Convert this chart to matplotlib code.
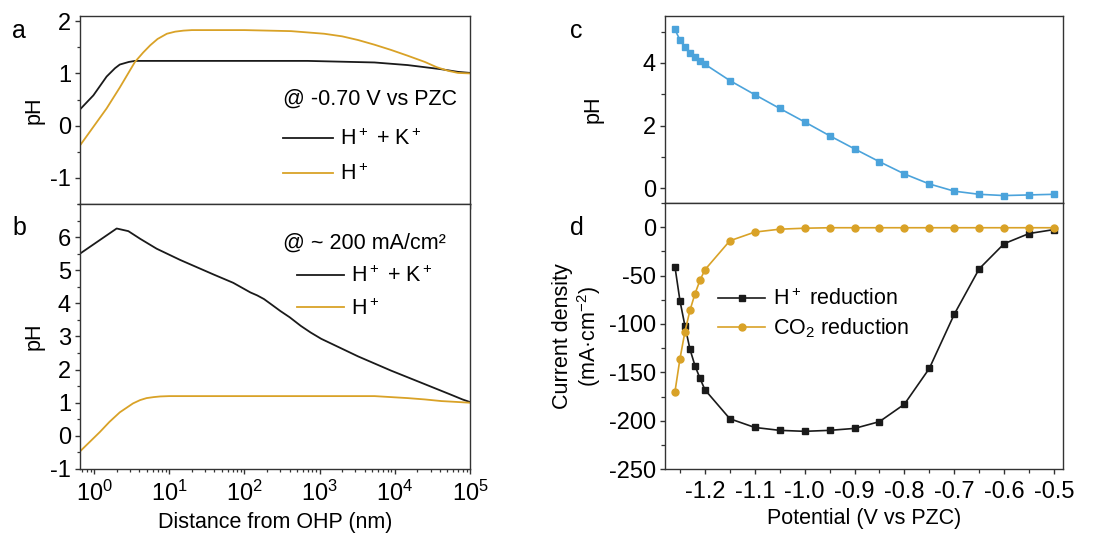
import matplotlib
matplotlib.use("Agg")
import matplotlib.pyplot as plt
from matplotlib.ticker import MultipleLocator, FormatStrFormatter, LogLocator, NullFormatter

plt.rcParams['font.family'] = ['Liberation Sans', 'DejaVu Sans']
plt.rcParams['mathtext.fontset'] = 'custom'
plt.rcParams['mathtext.rm'] = 'Liberation Sans'
plt.rcParams['mathtext.it'] = 'Liberation Sans:italic'
plt.rcParams['mathtext.bf'] = 'Liberation Sans:bold'
plt.rcParams['axes.unicode_minus'] = False
plt.rcParams['font.size'] = 15.5
plt.rcParams['xtick.labelsize'] = 17
plt.rcParams['ytick.labelsize'] = 17

orange = '#D9A227'
blue = '#4BA3DB'
black = '#1a1a1a'
spine_c = '#333333'

# --- panel a: pH vs distance @ -0.70 V vs PZC ---
a_hk_x = [0.65, 0.98, 1.47, 1.9, 2.2, 2.9, 3.5, 690, 5370, 14800, 41700, 69200, 1e5]
a_hk_ph = [0.31, 0.58, 0.94, 1.10, 1.17, 1.22, 1.24, 1.24, 1.21, 1.16, 1.08, 1.03, 1.01]
a_h_x = [0.65, 1.47, 2.2, 3.5, 4.5, 5.6, 7.0, 9.3, 12, 15.5, 20, 32, 100, 417, 1150,
         2000, 3240, 5370, 8910, 14800, 25100, 36000, 51300, 69200, 1e5]
a_h_ph = [-0.38, 0.33, 0.73, 1.22, 1.40, 1.54, 1.66, 1.76, 1.80, 1.82, 1.83, 1.83, 1.83,
          1.81, 1.76, 1.71, 1.64, 1.55, 1.45, 1.34, 1.22, 1.12, 1.05, 1.01, 1.0]

# --- panel b: pH vs distance @ ~200 mA/cm2 ---
b_hk_x = [0.65, 2.0, 2.86, 4.1, 6.8, 14, 39, 71, 120, 148, 182, 234, 300, 400, 562,
          760, 1050, 3240, 8910, 25100, 56200, 79400, 1e5]
b_hk_ph = [5.50, 6.26, 6.18, 5.95, 5.65, 5.31, 4.87, 4.62, 4.33, 4.24, 4.13, 3.95, 3.77,
           3.58, 3.32, 3.12, 2.93, 2.40, 1.97, 1.56, 1.24, 1.10, 1.02]
b_h_x = [0.65, 1.2, 1.6, 2.2, 3.3, 4.1, 5.0, 6.2, 7.6, 10, 5370, 14800, 25000, 41700,
         60000, 1e5]
b_h_ph = [-0.47, 0.12, 0.42, 0.71, 0.98, 1.08, 1.14, 1.17, 1.19, 1.20, 1.20, 1.14, 1.10,
          1.05, 1.03, 1.0]

# --- panels c, d: vs potential ---
potential = [-1.26, -1.25, -1.24, -1.23, -1.22, -1.21, -1.20, -1.15, -1.10, -1.05, -1.00,
             -0.95, -0.90, -0.85, -0.80, -0.75, -0.70, -0.65, -0.60, -0.55, -0.50]
ph_c = [5.07, 4.73, 4.50, 4.33, 4.18, 4.06, 3.96, 3.44, 2.99, 2.55, 2.12,
        1.68, 1.26, 0.85, 0.46, 0.14, -0.09, -0.19, -0.23, -0.21, -0.19]
j_h = [-41, -76, -102, -126, -143, -156, -168, -198, -207, -210, -211,
       -210, -208, -201, -183, -146, -90, -43, -17, -6.5, -2.4]
j_co2 = [-170, -136, -108, -86, -69, -55, -44, -14, -5, -2, -1,
         -0.5, -0.5, -0.5, -0.5, -0.5, -0.5, -0.5, -0.5, -0.5, -0.5]

fig = plt.figure(figsize=(11.03, 5.33), dpi=100)
ax_a = fig.add_axes([0.0725, 0.6173, 0.3536, 0.3527])
ax_b = fig.add_axes([0.0725, 0.1201, 0.3536, 0.4972])
ax_c = fig.add_axes([0.6029, 0.619, 0.3608, 0.351])
ax_d = fig.add_axes([0.6029, 0.120, 0.3608, 0.499])


def style(ax):
    for s in ax.spines.values():
        s.set_color(spine_c)
        s.set_linewidth(1.0)
    ax.tick_params(which='both', direction='out', top=False, right=False, color=spine_c)
    ax.tick_params(which='major', length=3.5, width=1.0, pad=3)
    ax.tick_params(axis='x', which='major', pad=5)
    ax.tick_params(which='minor', length=2.2, width=0.9)


# panel a
ax_a.plot(a_hk_x, a_hk_ph, color=black, lw=1.3, label='H$^+$ + K$^+$')
ax_a.plot(a_h_x, a_h_ph, color=orange, lw=1.3, label='H$^+$')
ax_a.set_xscale('log')
ax_a.set_xlim(0.65, 1e5)
ax_a.set_ylim(-1.5, 2.1)
ax_a.yaxis.set_major_locator(MultipleLocator(1))
ax_a.yaxis.set_minor_locator(MultipleLocator(0.5))
ax_a.xaxis.set_major_formatter(NullFormatter())
ax_a.set_ylabel('pH')
ax_a.yaxis.set_label_coords(-0.09, 0.5)
ax_a.text(0.52, 0.559, '@ -0.70 V vs PZC', transform=ax_a.transAxes, va='center', ha='left')
ax_a.legend(loc='upper left', bbox_to_anchor=(0.52, 0.40), frameon=False, borderpad=0,
            borderaxespad=0, handlelength=2.32, handletextpad=0.33, labelspacing=0.62)

# panel b
ax_b.plot(b_hk_x, b_hk_ph, color=black, lw=1.3, label='H$^+$ + K$^+$')
ax_b.plot(b_h_x, b_h_ph, color=orange, lw=1.3, label='H$^+$')
ax_b.set_xscale('log')
ax_b.set_xlim(0.65, 1e5)
ax_b.set_ylim(-1, 7)
ax_b.yaxis.set_minor_locator(MultipleLocator(0.5))
ax_b.set_yticks([-1, 0, 1, 2, 3, 4, 5, 6])
ax_b.set_ylabel('pH')
ax_b.yaxis.set_label_coords(-0.09, 0.5)
ax_b.set_xlabel('Distance from OHP (nm)', labelpad=4)
ax_b.text(0.52, 0.853, '@ ~ 200 mA/cm²', transform=ax_b.transAxes, va='center', ha='left')
ax_b.legend(loc='upper left', bbox_to_anchor=(0.556, 0.766), frameon=False, borderpad=0,
            borderaxespad=0, handlelength=2.2, handletextpad=0.33, labelspacing=0.5)

for ax in (ax_a, ax_b):
    ax.xaxis.set_major_locator(LogLocator(base=10, numticks=10))
    ax.xaxis.set_minor_locator(LogLocator(base=10, subs=range(2, 10), numticks=20))
    ax.xaxis.set_minor_formatter(NullFormatter())
    style(ax)

# panel c
ax_c.plot(potential, ph_c, color=blue, lw=1.2, marker='s', ms=4.2)
ax_c.set_xlim(-1.28, -0.482)
ax_c.set_ylim(-0.47, 5.5)
ax_c.yaxis.set_major_locator(MultipleLocator(2))
ax_c.yaxis.set_minor_locator(MultipleLocator(1))
ax_c.xaxis.set_major_formatter(NullFormatter())
ax_c.set_ylabel('pH')
ax_c.yaxis.set_label_coords(-0.155, 0.5)

# panel d
ax_d.plot(potential, j_h, color=black, lw=1.2, marker='s', ms=4.2, label='H$^+$ reduction')
ax_d.plot(potential, j_co2, color=orange, lw=1.2, marker='o', ms=5, label='CO$_2$ reduction')
ax_d.set_xlim(-1.28, -0.482)
ax_d.set_ylim(-250, 25)
ax_d.yaxis.set_major_locator(MultipleLocator(50))
ax_d.yaxis.set_minor_locator(MultipleLocator(25))
ax_d.xaxis.set_major_formatter(FormatStrFormatter('%.1f'))
ax_d.set_ylabel('Current density\n(mA·cm$^{-2}$)', linespacing=1.1)
ax_d.yaxis.set_label_coords(-0.155, 0.5)
ax_d.set_xlabel('Potential (V vs PZC)', labelpad=4)
ax_d.legend(loc='upper left', bbox_to_anchor=(0.133, 0.678), frameon=False, borderpad=0,
            borderaxespad=0, handlelength=2.2, handletextpad=0.35, labelspacing=0.3)

for ax in (ax_c, ax_d):
    ax.xaxis.set_major_locator(MultipleLocator(0.1))
    ax.xaxis.set_minor_locator(MultipleLocator(0.05))
    style(ax)
    ax.tick_params(which='minor', length=3.0)

# panel letters
fig.text(0.011, 0.929, 'a', fontsize=18)
fig.text(0.011, 0.559, 'b', fontsize=18)
fig.text(0.517, 0.929, 'c', fontsize=18)
fig.text(0.517, 0.559, 'd', fontsize=18)

fig.savefig('out.png', dpi=100)
